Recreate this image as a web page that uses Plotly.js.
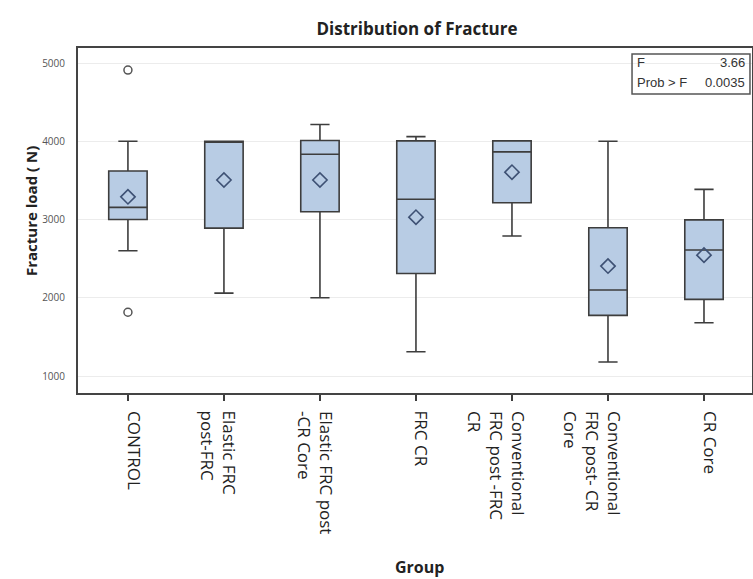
<!DOCTYPE html>
<html>
<head>
<meta charset="utf-8">
<script src="https://cdn.plot.ly/plotly-3.0.1.min.js"></script>
<style>html,body{margin:0;padding:0;background:#fff;}#chart{width:753px;height:579px;}</style>
</head>
<body>
<div id="chart"></div>
<script>
const categories = ["CONTROL", "Elastic FRC post-FRC", "Elastic FRC post-CR Core", "FRC CR",
  "Conventional FRC post-FRC CR", "Conventional FRC post-CR Core", "CR Core"];
const tickLabels = ["CONTROL", "Elastic FRC<br>post-FRC", "Elastic FRC post<br>-CR Core", "FRC CR",
  "Conventional<br>FRC post -FRC<br>CR", "Conventional<br>FRC post- CR<br>Core", "CR Core"];
const lowerFence = [2600, 2060, 2000, 1310, 2790, 1180, 1680];
const q1Values   = [3000, 2890, 3100, 2310, 3215, 1775, 1980];
const medians    = [3155, 4000, 3835, 3260, 3865, 2100, 2610];
const q3Values   = [3620, 4000, 4010, 4005, 4005, 2895, 2995];
const upperFence = [4000, 4000, 4215, 4060, 4005, 4000, 3385];
const means      = [3290, 3505, 3505, 3030, 3605, 2405, 2545];
const outlierX = ["CONTROL", "CONTROL"];
const outlierY = [4910, 1815];
const yTicks = [1000, 2000, 3000, 4000, 5000];
const statLabels = ["F", "Prob > F"];
const statValues = ["3.66", "0.0035"];

const boxFill = "#b8cce4";
const lineCol = "#3d3d3d";

const traces = [
  {
    type: "box", x: categories,
    q1: q1Values, median: medians, q3: q3Values,
    lowerfence: lowerFence, upperfence: upperFence,
    width: 0.4, whiskerwidth: 0.5,
    fillcolor: boxFill, line: {color: lineCol, width: 1.6},
    boxpoints: false, hoverinfo: "skip", showlegend: false
  },
  {
    type: "scatter", mode: "markers", x: categories, y: means,
    marker: {symbol: "diamond-open", size: 11, color: "#3e5174", line: {width: 1.6}},
    showlegend: false, hoverinfo: "skip"
  },
  {
    type: "scatter", mode: "markers", x: outlierX, y: outlierY,
    marker: {symbol: "circle-open", size: 8, color: "#555", line: {width: 1.5}},
    showlegend: false, hoverinfo: "skip"
  }
];

const font = "Open Sans, DejaVu Sans, sans-serif";
const annotations = [];
categories.forEach((c, i) => {
  annotations.push({
    xref: "x", yref: "paper", x: c, y: 0, xanchor: "right", yanchor: "top",
    xshift: 20, yshift: -16, textangle: 90, align: "left", showarrow: false,
    text: tickLabels[i], font: {family: font, size: 17, color: "#222"}
  });
});
annotations.push({
  xref: "paper", yref: "paper", x: 0.506, y: -0.504, xanchor: "center", yanchor: "middle",
  showarrow: false, text: "<b>Group</b>", font: {family: font, size: 16, color: "#222"}
});
annotations.push({
  xref: "paper", yref: "paper", x: -0.07, y: 0.527, xanchor: "center", yanchor: "middle",
  textangle: -90, showarrow: false, text: "<b>Fracture load ( N)</b>",
  font: {family: font, size: 15, color: "#222"}
});
const statY = [0.959, 0.901];
statLabels.forEach((t, i) => {
  annotations.push({xref: "paper", yref: "paper", x: 0.826, y: statY[i], xanchor: "left", yanchor: "middle",
    showarrow: false, text: t, font: {family: "Liberation Sans, Arial, sans-serif", size: 13, color: "#333"}});
  annotations.push({xref: "paper", yref: "paper", x: 0.9926, y: statY[i], xanchor: "right", yanchor: "middle",
    showarrow: false, text: statValues[i], font: {family: "Liberation Sans, Arial, sans-serif", size: 13, color: "#333"}});
});

const layout = {
  width: 753, height: 579,
  margin: {l: 78, r: 1, t: 48, b: 186},
  paper_bgcolor: "#fff", plot_bgcolor: "#fff",
  title: {text: "<b>Distribution of Fracture</b>", x: 0.503, xref: "paper", y: 0.95, yanchor: "middle",
    font: {family: font, size: 17, color: "#222"}},
  xaxis: {
    type: "category", range: [-0.52, 6.5], showticklabels: false,
    ticks: "outside", ticklen: 6, tickwidth: 2, tickcolor: lineCol,
    showline: true, linecolor: "#444", linewidth: 2, mirror: true,
    showgrid: false, zeroline: false, fixedrange: true
  },
  yaxis: {
    range: [783, 5192], tickvals: yTicks, ticktext: yTicks.map(String),
    tickfont: {family: font, size: 10, color: "#555"}, ticks: "", ticklabelstandoff: 9,
    showline: true, linecolor: "#444", linewidth: 2, mirror: true,
    showgrid: true, gridcolor: "#ececec", gridwidth: 1, zeroline: false, fixedrange: true
  },
  shapes: [{type: "rect", xref: "paper", yref: "paper", x0: 0.822, x1: 0.997, y0: 0.8667, y1: 0.9826,
    line: {color: "#555", width: 1.5}, fillcolor: "rgba(0,0,0,0)"}],
  annotations: annotations
};

Plotly.newPlot("chart", traces, layout, {displayModeBar: false, staticPlot: true});
</script>
</body>
</html>
